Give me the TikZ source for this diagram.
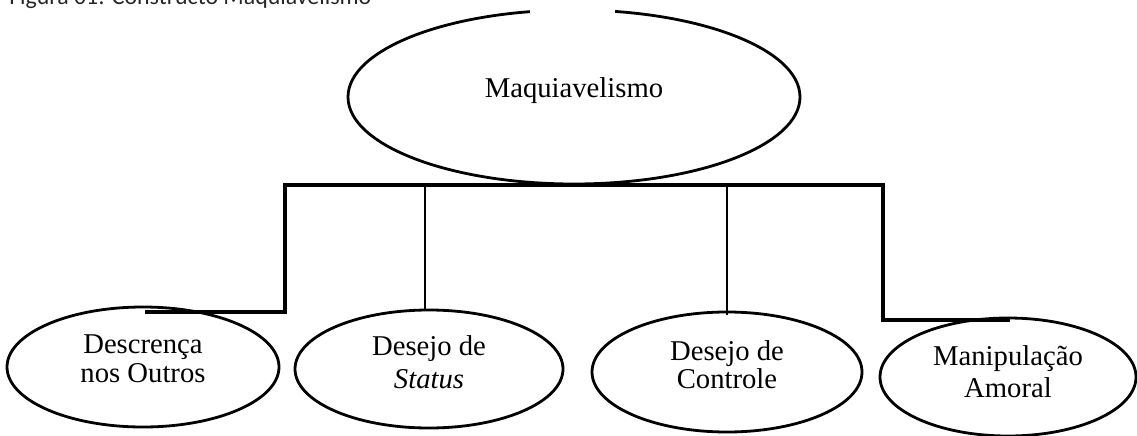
\documentclass[tikz,border=0pt]{standalone}
\usepackage{fontspec}
\setmainfont{Liberation Serif}
\newfontfamily\titlefont{Carlito}
\usetikzlibrary{shapes.geometric}
\tikzset{
  oval/.style={ellipse, draw, line width=2.1pt, inner sep=0pt},
  lbl/.style={align=center, inner sep=0pt},
  wire/.style={line width=2.3pt},
  thinwire/.style={line width=1.8pt},
}
\begin{document}
\begin{tikzpicture}[x=0.75pt,y=-0.75pt]
\useasboundingbox (0,0) rectangle (1137,435);
% title (partly cut at the top, as in the reference)
\node[anchor=base west, inner sep=0pt, font=\titlefont\fontsize{17.9}{20}\selectfont, text=black!85] (title) at (9,5) {Figura 01: Constructo Maquiavelismo};
% top ellipse
\node[oval, minimum width=339pt, minimum height=130.5pt] (top) at (574,97) {};
\fill[white] (530,0) rectangle (615,13);
\node[lbl, font=\fontsize{21.5}{24}\selectfont] (ttop) at (574,91) {Maquiavelismo};
% bottom ellipses
\node[oval, minimum width=204pt, minimum height=90pt] (e1) at (143,367) {};
\node[oval, minimum width=201pt, minimum height=88.5pt] (e2) at (429,369) {};
\node[oval, minimum width=202.5pt, minimum height=90pt] (e3) at (727,372) {};
\node[oval, minimum width=192pt, minimum height=88.5pt] (e4) at (1008,377) {};
\node[lbl, font=\fontsize{21.5}{21.75}\selectfont] (t1) at (143,358.5) {Descrença\\nos Outros};
\node[lbl, font=\fontsize{21.5}{24.75}\selectfont] (t2) at (429,362) {Desejo de\\\textit{Status}};
\node[lbl, font=\fontsize{21.5}{21}\selectfont] (t3) at (727,365) {Desejo de\\Controle};
\node[lbl, font=\fontsize{21.5}{24}\selectfont] (t4) at (1008,372) {Manipulação\\Amoral};
% connectors
\coordinate (b1) at (285,185);
\coordinate (b2) at (425,185);
\coordinate (b3) at (727,185);
\coordinate (b4) at (883,185);
\coordinate (k1) at (285,312);
\coordinate (f1) at (145,312);
\coordinate (f2) at (425,309);
\coordinate (f3) at (727,315);
\coordinate (k4) at (883,320);
\coordinate (f4) at (1010,320);
\draw[wire, line cap=rect] (b1) -- (b4);
\draw[wire] (b1) -- (k1) -- (f1);
\draw[wire] (b4) -- (k4) -- (f4);
\draw[thinwire] (b2) -- (f2);
\draw[thinwire] (b3) -- (f3);
\end{tikzpicture}
\end{document}
